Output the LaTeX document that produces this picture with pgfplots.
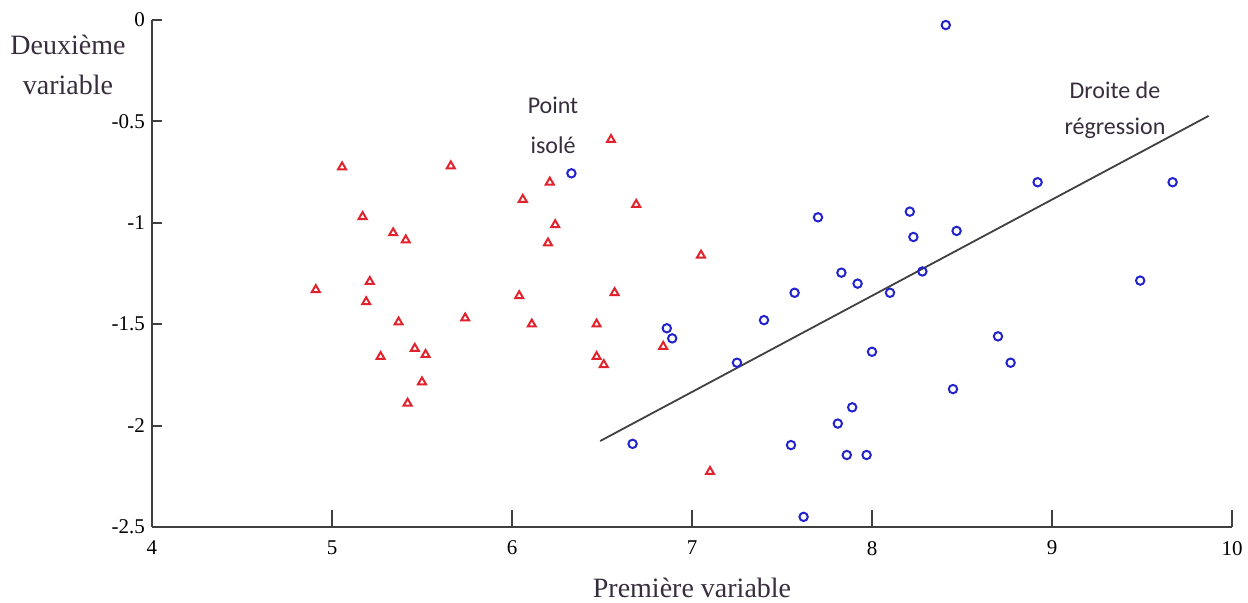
\documentclass[border=0pt]{standalone}
\usepackage{fontspec}
\setmainfont{Liberation Serif}
\newfontfamily\calibri{Carlito}
\usepackage{pgfplots}
\pgfplotsset{compat=1.18}
\definecolor{axgray}{RGB}{64,64,64}
\definecolor{myred}{RGB}{225,35,45}
\definecolor{myblue}{RGB}{35,35,205}
\definecolor{txt}{RGB}{55,45,60}
\begin{document}
\begin{tikzpicture}
\useasboundingbox (0,0) rectangle (624pt,301.5pt);
\begin{axis}[
  at={(76pt,38pt)}, anchor=south west,
  scale only axis, width=540pt, height=253.5pt,
  xmin=4,xmax=10,ymin=-2.5,ymax=0,
  axis lines*=left,
  axis line style={axgray, line width=1pt},
  tick align=inside,
  xtick={4,5,6,7,8,9,10}, ytick={-2.5,-2,-1.5,-1,-0.5,0},
  yticklabels={-2.5,-2,-1.5,-1,-0.5,0},
  xticklabels={4,5,6,7,8,9,10},
  tick style={axgray, line width=1pt},
  xtick style={/pgfplots/major tick length=8.5pt},
  ytick style={/pgfplots/major tick length=5pt},
  ticklabel style={font=\fontsize{10.5}{12}\selectfont, text=black},
  xticklabel style={yshift=-3.5pt},
  clip=false,
]
\addplot[axgray, line width=0.9pt] coordinates {(6.49,-2.076) (9.87,-0.473)};
\addplot[only marks, mark=triangle, mark size=2.3pt, myred, mark options={line width=1pt}] coordinates {
(4.91,-1.33) (5.056,-0.725) (5.17,-0.97) (5.19,-1.39) (5.21,-1.29) (5.27,-1.66)
(5.34,-1.05) (5.37,-1.49) (5.41,-1.085) (5.42,-1.89) (5.46,-1.62) (5.50,-1.785)
(5.52,-1.65) (5.66,-0.72) (5.74,-1.47) (6.04,-1.36) (6.06,-0.885) (6.11,-1.50)
(6.20,-1.10) (6.21,-0.80) (6.24,-1.01) (6.47,-1.50) (6.47,-1.66) (6.51,-1.70)
(6.55,-0.59) (6.57,-1.345) (6.69,-0.91) (6.84,-1.61) (7.05,-1.16) (7.10,-2.227)
};
\addplot[only marks, mark=o, mark size=2.1pt, myblue, mark options={line width=1pt}] coordinates {
(6.33,-0.756) (6.86,-1.52) (6.89,-1.57) (7.25,-1.69) (6.67,-2.09) (7.40,-1.48)
(7.57,-1.345) (7.55,-2.096) (7.62,-2.45) (7.70,-0.973) (7.81,-1.99) (7.83,-1.246)
(7.86,-2.145) (7.89,-1.91) (7.92,-1.30) (7.97,-2.145) (8.00,-1.636) (8.10,-1.345)
(8.21,-0.945) (8.23,-1.07) (8.28,-1.24) (8.41,-0.025) (8.45,-1.82) (8.47,-1.04)
(8.70,-1.56) (8.77,-1.69) (8.92,-0.80) (9.49,-1.285) (9.67,-0.80)
};
\node[font=\calibri\fontsize{12}{20}\selectfont, text=txt, align=center] at (axis cs:6.228,-0.518) {Point\\isolé};
\node[font=\calibri\fontsize{12}{18}\selectfont, text=txt, align=center] at (axis cs:9.35,-0.444) {Droite de\\régression};
\node[font=\fontsize{14}{20}\selectfont, text=txt, align=center] at (axis cs:3.533,-0.222) {Deuxième\\variable};
\node[font=\fontsize{14}{17}\selectfont, text=txt] at (axis cs:7,-2.80) {Première variable};
\end{axis}
\end{tikzpicture}
\end{document}
